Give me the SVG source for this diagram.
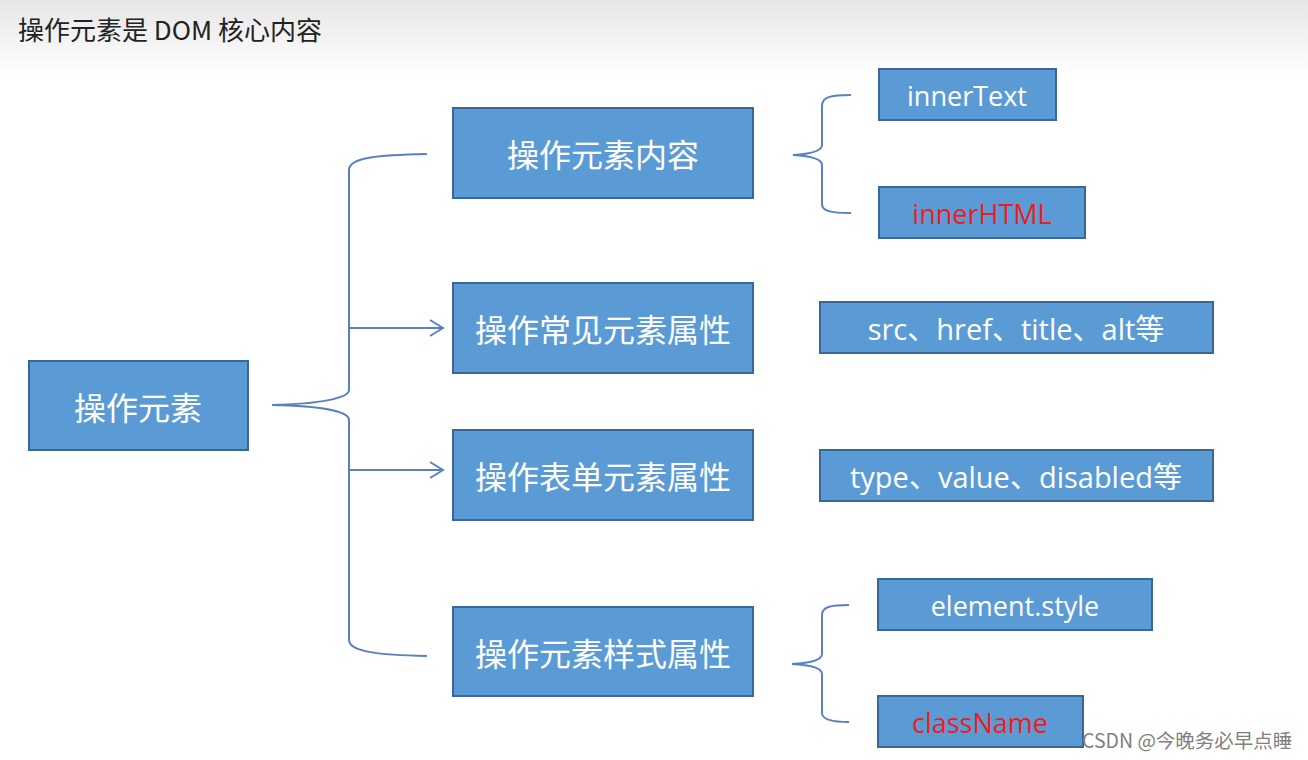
<svg xmlns="http://www.w3.org/2000/svg" width="1308" height="760" viewBox="0 0 1308 760">
<defs>
<linearGradient id="bg" x1="0" y1="0" x2="0" y2="1">
<stop offset="0" stop-color="#e6e6e6"/>
<stop offset="1" stop-color="#ffffff"/>
</linearGradient>
<marker id="arr" markerWidth="16" markerHeight="20" refX="14" refY="10" orient="auto" markerUnits="userSpaceOnUse">
<path d="M1,2 L14,10 L1,18" fill="none" stroke="#5a80c2" stroke-width="2"/>
</marker>
<style>
.box{fill:#5b9bd5;stroke:#3a6896;stroke-width:2}
.cn{font-family:"Noto Sans CJK SC","Microsoft YaHei",sans-serif;font-size:32px;fill:#ffffff;text-anchor:middle;dominant-baseline:central}
.en{font-family:"Open Sans","Noto Sans CJK SC",sans-serif;font-size:27px;fill:#ffffff;text-anchor:middle;dominant-baseline:central}
.wide{font-size:29px}
.red{fill:#ee1c1c}
.con{fill:none;stroke:#5a80c2;stroke-width:2}
</style>
</defs>
<rect x="0" y="0" width="1308" height="760" fill="#ffffff"/>
<rect x="0" y="0" width="1308" height="75" fill="url(#bg)"/>
<text x="18" y="40" font-family="Noto Sans CJK SC, sans-serif" font-size="26" fill="#222222">操作元素是 DOM 核心内容</text>

<g id="connectors">
<path class="con" d="M427,154 C380,155 349,157 349,170 L349,390 C349,398 320,404 272,405 C320,406 349,411 349,420 L349,640 C349,652 380,655 427,656"/>
<line class="con" x1="349" y1="328" x2="443" y2="328" marker-end="url(#arr)"/>
<line class="con" x1="349" y1="470" x2="443" y2="470" marker-end="url(#arr)"/>
<path class="con" d="M851,95 C830,95 822,97 822,106 L822,145 C822,151 810,154 793,155 C810,156 822,159 822,165 L822,204 C822,211 830,213 851,213"/>
<path class="con" d="M849,605 C830,605 822,607 822,615 L822,654 C822,660 810,663 792,664 C810,665 822,668 822,674 L822,713 C822,719 830,722 849,722"/>
</g>

<g id="root"><rect class="box" x="29" y="361" width="219" height="89"/><text class="cn" x="138" y="406">操作元素</text></g>

<g id="n1"><rect class="box" x="453" y="108" width="300" height="90"/><text class="cn" x="603" y="153">操作元素内容</text></g>
<g id="n2"><rect class="box" x="453" y="283" width="300" height="90"/><text class="cn" x="603" y="328">操作常见元素属性</text></g>
<g id="n3"><rect class="box" x="453" y="430" width="300" height="90"/><text class="cn" x="603" y="475">操作表单元素属性</text></g>
<g id="n4"><rect class="box" x="453" y="607" width="300" height="89"/><text class="cn" x="603" y="652">操作元素样式属性</text></g>

<g id="innerText"><rect class="box" x="879" y="69" width="177" height="51"/><text class="en" x="967" y="95">innerText</text></g>
<g id="innerHTML"><rect class="box" x="879" y="187" width="206" height="51"/><text class="en red" x="982" y="213">innerHTML</text></g>
<g id="attrs"><rect class="box" x="820" y="302" width="393" height="51"/><text class="en wide" x="1016" y="328">src、href、title、alt等</text></g>
<g id="formattrs"><rect class="box" x="820" y="450" width="393" height="51"/><text class="en wide" x="1016" y="476">type、value、disabled等</text></g>
<g id="elstyle"><rect class="box" x="878" y="579" width="274" height="51"/><text class="en" x="1015" y="605">element.style</text></g>
<g id="className"><rect class="box" x="878" y="696" width="205" height="51"/><text class="en red" x="980" y="722">className</text></g>

<text x="1082" y="748" font-family="Noto Sans CJK SC, sans-serif" font-size="19.5" fill="#808080">CSDN @今晚务必早点睡</text>
</svg>
